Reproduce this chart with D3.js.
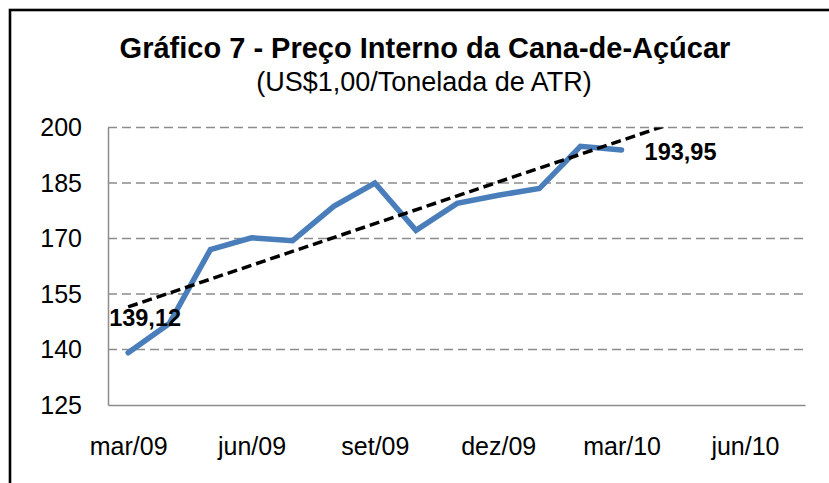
<!DOCTYPE html>
<html>
<head>
<meta charset="utf-8">
<script src="https://cdn.jsdelivr.net/npm/d3@7"></script>
<style>
  html, body { margin: 0; padding: 0; background: #fff; }
  svg { display: block; font-family: "Liberation Sans", Arial, sans-serif; }
</style>
</head>
<body>
<svg id="chart" width="829" height="483"></svg>
<script>
// ---- data ----
const months = ["mar/09","abr/09","mai/09","jun/09","jul/09","ago/09","set/09","out/09","nov/09","dez/09","jan/10","fev/10","mar/10"];
const prices = [139.12, 147.0, 167.0, 170.2, 169.4, 178.7, 185.0, 172.2, 179.5, 181.7, 183.5, 194.9, 193.95];
const tickLabels = ["mar/09","jun/09","set/09","dez/09","mar/10","jun/10"];
const tickIndex = [0, 3, 6, 9, 12, 15];
const yTicks = [125, 140, 155, 170, 185, 200];
const title = "Gráfico 7 - Preço Interno da Cana-de-Açúcar";
const subtitle = "(US$1,00/Tonelada de ATR)";
const firstLabel = "139,12";
const lastLabel = "193,95";

const svg = d3.select("#chart");
const W = 829, H = 483;
const plot = {left: 108, right: 805, top: 127.5, bottom: 405};

// frame
svg.append("rect").attr("x", 10).attr("y", 10).attr("width", W + 20).attr("height", H + 20)
  .attr("fill", "#fff").attr("stroke", "#000").attr("stroke-width", 2.6);

// titles
svg.append("text").attr("x", 425).attr("y", 58).attr("text-anchor", "middle")
  .attr("font-size", 29).attr("font-weight", "bold").attr("fill", "#000").text(title);
svg.append("text").attr("x", 424).attr("y", 91).attr("text-anchor", "middle")
  .attr("font-size", 27).attr("fill", "#000").text(subtitle);

const x = d3.scaleLinear().domain([-0.49, 16.46]).range([plot.left, plot.right]);
const y = d3.scaleLinear().domain([125, 200]).range([plot.bottom, plot.top]);

// gridlines
svg.append("g").selectAll("line").data(yTicks.filter(v => v > 125)).join("line")
  .attr("x1", plot.left).attr("x2", plot.right)
  .attr("y1", d => y(d)).attr("y2", d => y(d))
  .attr("stroke", "#8c8c8c").attr("stroke-width", 1.5).attr("stroke-dasharray", "9,5");

// axes
const yAxis = d3.axisLeft(y).tickValues(yTicks).tickSize(0).tickPadding(26).tickFormat(d3.format("d"));
const gy = svg.append("g").attr("transform", `translate(${plot.left},0)`).call(yAxis);
gy.select(".domain").attr("stroke", "#8c8c8c").attr("stroke-width", 1.5);
gy.selectAll("text").attr("font-size", 25).attr("fill", "#000").attr("font-family", "Liberation Sans, Arial, sans-serif");

const xAxis = d3.axisBottom(x).tickValues(tickIndex).tickSize(0).tickPadding(32)
  .tickFormat((d, i) => tickLabels[i]);
const gx = svg.append("g").attr("transform", `translate(0,${plot.bottom})`).call(xAxis);
gx.select(".domain").attr("stroke", "#8c8c8c").attr("stroke-width", 1.5);
gx.selectAll("text").attr("font-size", 25).attr("fill", "#000").attr("font-family", "Liberation Sans, Arial, sans-serif");

// clip
svg.append("clipPath").attr("id", "clip").append("rect")
  .attr("x", plot.left).attr("y", plot.top).attr("width", plot.right - plot.left).attr("height", plot.bottom - plot.top);

// series line
const line = d3.line().x((d, i) => x(i)).y(d => y(d));
svg.append("path").datum(prices).attr("d", line)
  .attr("fill", "none").attr("stroke", "#4a7ebb").attr("stroke-width", 5.5)
  .attr("stroke-linejoin", "miter").attr("stroke-linecap", "round");

// linear trend (least squares on the series)
const n = prices.length;
const mx = d3.mean(prices, (d, i) => i), my = d3.mean(prices);
const slope = d3.sum(prices, (d, i) => (i - mx) * (d - my)) / d3.sum(prices, (d, i) => (i - mx) * (i - mx));
const icpt = my - slope * mx;
const trend = [0, 15].map(i => [i, icpt + slope * i]);
svg.append("path").datum(trend).attr("clip-path", "url(#clip)")
  .attr("d", d3.line().x(d => x(d[0])).y(d => y(d[1])))
  .attr("fill", "none").attr("stroke", "#000").attr("stroke-width", 3.5).attr("stroke-dasharray", "10,5");

// data labels
svg.append("text").attr("x", x(0) - 19).attr("y", y(prices[0]) - 27)
  .attr("font-size", 23.5).attr("font-weight", "bold").attr("fill", "#000").text(firstLabel);
svg.append("text").attr("x", x(n - 1) + 23).attr("y", y(prices[n - 1]) + 10)
  .attr("font-size", 23.5).attr("font-weight", "bold").attr("fill", "#000").text(lastLabel);
</script>
</body>
</html>
